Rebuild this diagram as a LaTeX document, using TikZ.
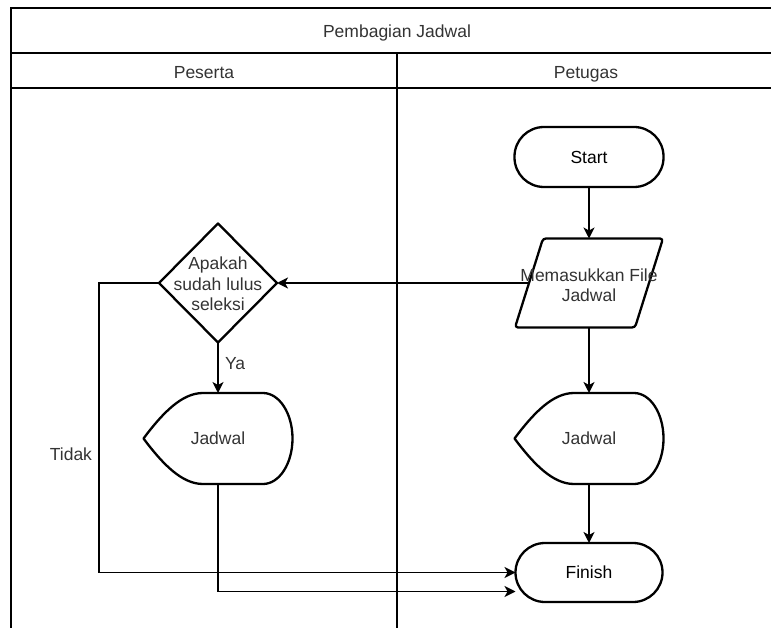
\documentclass[tikz,border=0pt]{standalone}
\usepackage{fontspec}
\setmainfont{Liberation Sans}
\usetikzlibrary{shapes.geometric,arrows.meta,calc}
\definecolor{txt}{HTML}{333333}
\newcommand\dispoutline[1]{%
  \draw[shp,shift={(#1.center)}] (-74.5,0) .. controls (-55,-26) and (-36,-45.5) .. (-15,-45.5)
    -- (45,-45.5) .. controls (61.3,-45.5) and (74.5,-25.1) .. (74.5,0)
    .. controls (74.5,25.1) and (61.3,45.5) .. (45,45.5)
    -- (-15,45.5) .. controls (-36,45.5) and (-55,26) .. cycle;}
\begin{document}
\begin{tikzpicture}[x=1pt,y=-1pt,
  every node/.style={font=\fontsize{17.5}{20.5}\selectfont, text=txt, inner sep=0pt, outer sep=0pt},
  lbl/.style={text height=12.6pt, text depth=0pt},
  lane/.style={line width=1.5pt, black},
  shp/.style={line width=2.3pt, black, line join=round},
  conn/.style={line width=1.4pt, black, -{Stealth[length=11pt,width=11pt,inset=3pt]}},
  term/.style={draw, shp, rectangle, rounded corners=29.5pt, minimum width=149pt, minimum height=60pt, lbl},
  box/.style={rectangle, minimum width=#1, minimum height=89pt},
  dia/.style={diamond, draw, shp, minimum width=118pt, minimum height=119pt},
  disp/.style={rectangle, minimum width=149pt, minimum height=91pt, lbl}
]
\useasboundingbox (0,0) rectangle (771,628);
\clip (0,0) rectangle (771,628);
% swimlane frame
\draw[lane] (11,650) -- (11,8) -- (800,8);
\draw[lane] (11,53) -- (800,53);
\draw[lane] (11,88) -- (800,88);
\draw[lane] (397,53) -- (397,650);
\node[lbl] (title) at (397,31) {Pembagian Jadwal};
\node[lbl] (peserta) at (204,72.5) {Peserta};
\node[lbl] (petugas) at (586,72.5) {Petugas};
% Petugas lane
\node[term] (start) at (589,157) {Start};
\node[box=148pt] (inp) at (589,283) {};
\draw[shp, rounded corners=3pt] ([xshift=28pt]inp.north west) -- (inp.north east)
  -- ([xshift=-28pt]inp.south east) -- (inp.south west) -- cycle;
\node[align=center] (inptxt) at (589,285) {Memasukkan File\\Jadwal};
\node[disp] (j2) at (589,438.5) {Jadwal};
\dispoutline{j2}
\node[term, minimum width=147pt, minimum height=59pt] (fin) at (589,572.5) {Finish};
% Peserta lane
\node[dia] (dec) at (218,283) {};
\node[align=center] (dectxt) at (218,284) {Apakah\\sudah lulus\\seleksi};
\node[disp] (j1) at (218,438.5) {Jadwal};
\dispoutline{j1}
\coordinate (bend) at (99,283);
% connectors
\draw[conn] (start) -- (inp);
\draw[conn] (inp) -- (j2);
\draw[conn] (j2) -- (fin);
\draw[conn] ([xshift=14pt]inp.west) -- (dec.east);
\draw[conn] (dec) -- (j1) node[midway, lbl, anchor=west, xshift=7pt, yshift=5pt] (ya) {Ya};
\draw[conn] (dec.west) -- (bend) |- (fin.west) node[pos=0.295, lbl, anchor=east, xshift=-7pt] (tidak) {Tidak};
\draw[conn] (j1.south) |- ([yshift=-19pt]fin.west);
\end{tikzpicture}
\end{document}
